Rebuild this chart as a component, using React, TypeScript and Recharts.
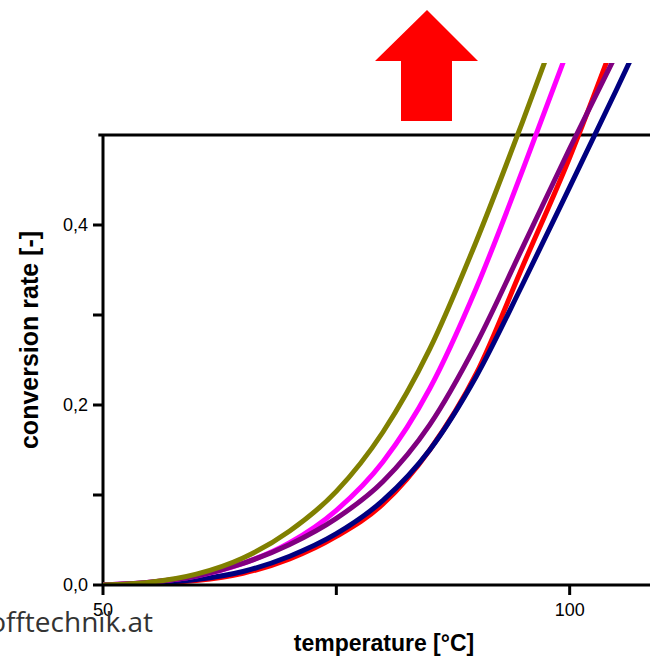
import React from "react";
import { LineChart, Line, XAxis, YAxis, ReferenceLine } from "recharts";

const temperatures = [50, 55, 60, 65, 70, 75, 80, 85, 90, 95, 100, 105, 110];
const olive = [0, 0.003, 0.012, 0.03, 0.06, 0.104, 0.17, 0.262, 0.382, 0.516, 0.656, null, null];
const magenta = [0, 0.003, 0.01, 0.024, 0.047, 0.083, 0.137, 0.218, 0.33, 0.462, 0.6, null, null];
const purple = [0, 0.003, 0.01, 0.024, 0.045, 0.074, 0.115, 0.178, 0.268, 0.376, 0.485, 0.59, null];
const red = [0, 0.002, 0.005, 0.013, 0.029, 0.054, 0.09, 0.15, 0.235, 0.355, 0.475, 0.61, null];
const navy = [0, 0.002, 0.006, 0.015, 0.032, 0.057, 0.094, 0.15, 0.232, 0.335, 0.442, 0.55, 0.66];

const xTicks = [50, 75, 100];
const xTickLabels = ["50", "", "100"];
const yTicks = [0, 0.1, 0.2, 0.3, 0.4];
const yTickLabels = ["0,0", "", "0,2", "", "0,4"];

const xTitle = "temperature [°C]";
const yTitle = "conversion rate [-]";
const watermark = "offtechnik.at";

const data = temperatures.map((t, i) => ({
  t,
  olive: olive[i],
  magenta: magenta[i],
  purple: purple[i],
  red: red[i],
  navy: navy[i],
}));

const tickFont = { fontFamily: "'Liberation Sans', Arial, sans-serif", fontSize: 18, fill: "#000" };

export default function App() {
  return (
    <div style={{ position: "absolute", left: 0, top: 0, width: 650, height: 658, overflow: "hidden", background: "#fff" }}>
      <LineChart
        width={663}
        height={658}
        data={data}
        margin={{ top: 63, right: 0, bottom: 33, left: 3 }}
      >
        <XAxis
          dataKey="t"
          type="number"
          domain={[50, 110]}
          allowDataOverflow
          ticks={xTicks}
          interval={0}
          tickFormatter={(v: number) => xTickLabels[xTicks.indexOf(v)] ?? ""}
          height={40}
          axisLine={{ stroke: "#000", strokeWidth: 3 }}
          tickLine={{ stroke: "#000", strokeWidth: 3 }}
          tickSize={10}
          tickMargin={8}
          tick={tickFont}
        />
        <YAxis
          type="number"
          domain={[0, 0.58]}
          allowDataOverflow
          ticks={yTicks}
          interval={0}
          tickFormatter={(v: number) => yTickLabels[yTicks.indexOf(v)] ?? ""}
          width={100}
          axisLine={false}
          tickLine={{ stroke: "#000", strokeWidth: 3 }}
          tickSize={10}
          tickMargin={5}
          tick={tickFont}
        />
        <ReferenceLine
          segment={[{ x: 50, y: 0 }, { x: 50, y: 0.5 }]}
          stroke="#000"
          strokeWidth={3}
          ifOverflow="visible"
        />
        <ReferenceLine
          segment={[{ x: 49.5, y: 0.5 }, { x: 110, y: 0.5 }]}
          stroke="#000"
          strokeWidth={3}
          ifOverflow="visible"
        />
        <Line type="monotone" dataKey="red" stroke="#FF0000" strokeWidth={5} dot={false} isAnimationActive={false} />
        <Line type="monotone" dataKey="navy" stroke="#000080" strokeWidth={5} dot={false} isAnimationActive={false} />
        <Line type="monotone" dataKey="magenta" stroke="#FF00FF" strokeWidth={5} dot={false} isAnimationActive={false} />
        <Line type="monotone" dataKey="purple" stroke="#800080" strokeWidth={5} dot={false} isAnimationActive={false} />
        <Line type="monotone" dataKey="olive" stroke="#808000" strokeWidth={5} dot={false} isAnimationActive={false} />
      </LineChart>
      <svg width={650} height={658} style={{ position: "absolute", left: 0, top: 0, pointerEvents: "none" }}>
        <polygon points="427,10 478,61 452,61 452,121 401,121 401,61 375,61" fill="#FF0000" />
        <text
          x={384}
          y={651}
          textAnchor="middle"
          fontFamily="'Liberation Sans', Arial, sans-serif"
          fontWeight="bold"
          fontSize={23}
          fill="#000"
        >
          {xTitle}
        </text>
        <text
          transform="translate(38,340) rotate(-90)"
          textAnchor="middle"
          fontFamily="'Liberation Sans', Arial, sans-serif"
          fontWeight="bold"
          fontSize={25}
          fill="#000"
        >
          {yTitle}
        </text>
        <text
          x={153}
          y={632}
          textAnchor="end"
          fontFamily="'Open Sans', sans-serif"
          fontSize={28}
          fill="#333"
        >
          {watermark}
        </text>
      </svg>
    </div>
  );
}
